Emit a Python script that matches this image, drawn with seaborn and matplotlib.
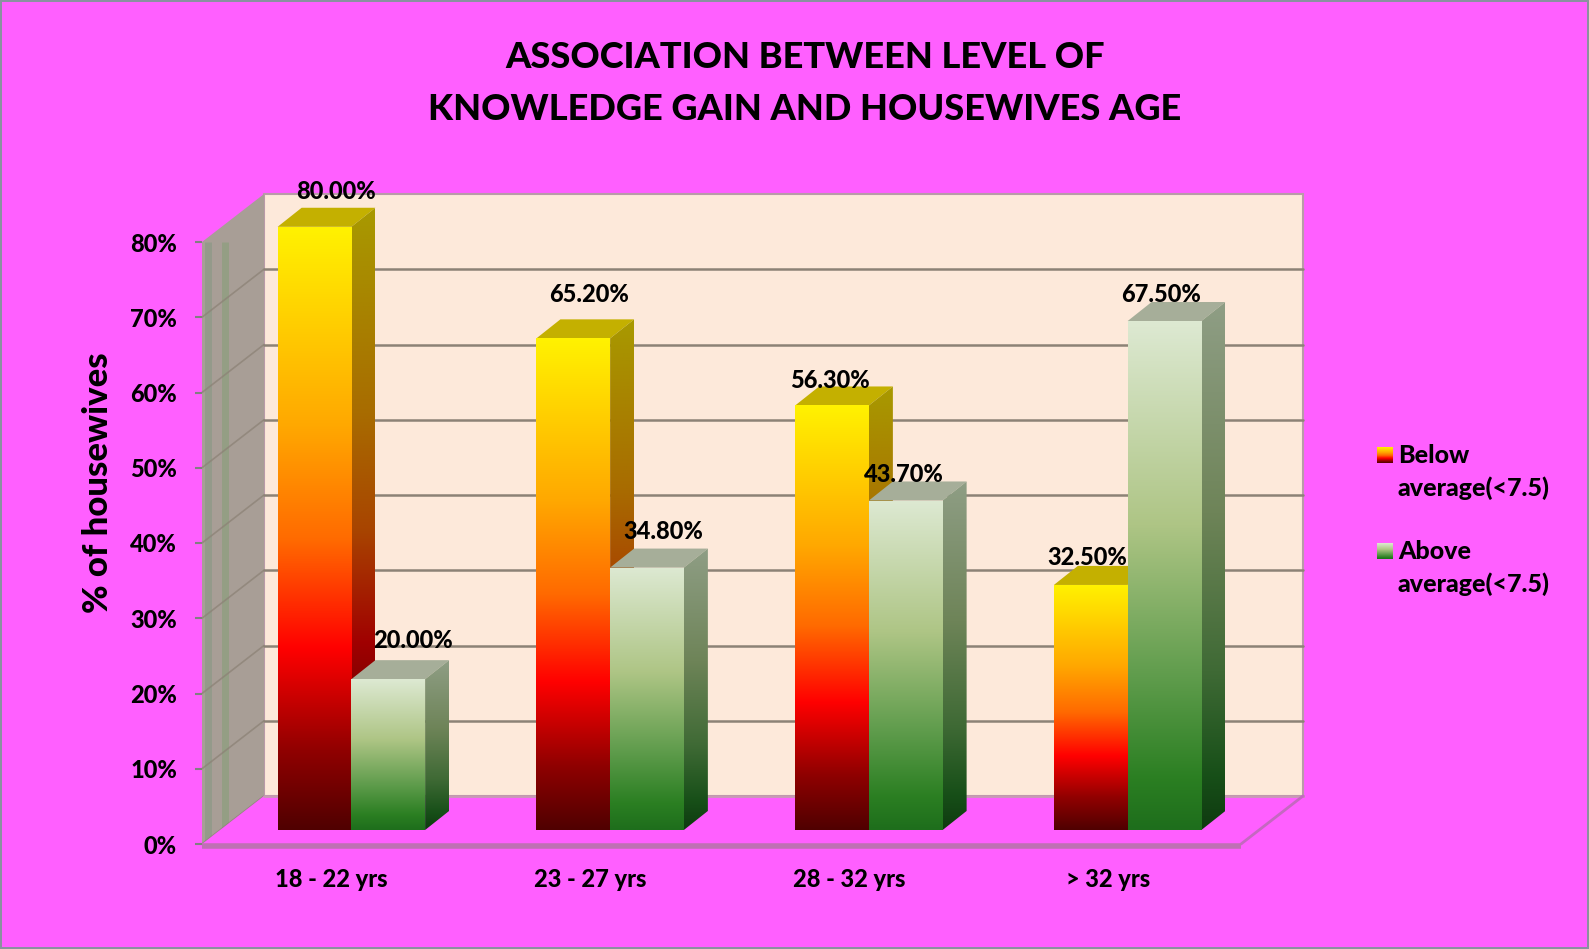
import numpy as np
import pandas as pd
import seaborn as sns
import matplotlib
matplotlib.use("Agg")
import matplotlib.pyplot as plt
from matplotlib.colors import LinearSegmentedColormap as LSC
from matplotlib.patches import Polygon

# ---- data ----
age_groups = ["18 - 22 yrs", "23 - 27 yrs", "28 - 32 yrs", "> 32 yrs"]
below_avg = [80.0, 65.2, 56.3, 32.5]
above_avg = [20.0, 34.8, 43.7, 67.5]
series_names = ["Below average(<7.5)", "Above average(<7.5)"]
y_ticks = [0, 10, 20, 30, 40, 50, 60, 70, 80]

# ---- style ----
W, H = 1589, 949
PINK = "#FF5FFF"
WALL = "#FDE9DA"
SIDEWALL = "#A89E96"
GRID = "#8C8276"
HEAVY = 900
sns.set_theme(style="white")
plt.rcParams["font.family"] = ["Lato", "DejaVu Sans"]

orange_front = LSC.from_list("of", [(0, "#FFF200"), (.33, "#FFA800"), (.52, "#FF6A00"), (.70, "#FF0000"), (.87, "#900000"), (1, "#500000")])
orange_side = LSC.from_list("os", [(0, "#A89A00"), (.33, "#A86C00"), (.52, "#A84400"), (.70, "#A00000"), (.87, "#5E0000"), (1, "#300000")])
green_front = LSC.from_list("gf", [(0, "#DDE9D2"), (.40, "#AEC585"), (.70, "#5F9C4C"), (.90, "#2B7F22"), (1, "#1E6E1C")])
green_side = LSC.from_list("gs", [(0, "#8F9E85"), (.40, "#6E8458"), (.70, "#3F6A35"), (.90, "#174F18"), (1, "#0F3A10")])
top_colors = ["#C4B000", "#A6AE99"]
fronts, sides = [orange_front, green_front], [orange_side, green_side]

# label offsets in pixels relative to the bar's centre / top
label_dx = [21, 16, -2, -3, 25, 16, -2, -3]
label_dy = [35, 44, 25, 27, 39, 36, 26, 27]

fig = plt.figure(figsize=(W / 100, H / 100), dpi=100, facecolor=PINK,
                 edgecolor="#8A90A0", linewidth=1.5)


def axes_px(left, right, top, bottom):
    return fig.add_axes([left / W, 1 - bottom / H, (right - left) / W, (bottom - top) / H])


# ---- front plane: walls, floor, ticks ----
af = axes_px(202, 1237, 242, 844)
af.patch.set_alpha(0)
af.set_xlim(-0.5, 3.5)
af.set_ylim(0, 80)
px_x = 4 / 1035
px_y = 80 / 602
wd_x, wd_y = 62 * px_x, 48 * px_y
xl, xr = -0.5, 3.5 + 4 * px_x
kw = dict(clip_on=False)
af.add_patch(Polygon([(xl + wd_x, wd_y), (xr + wd_x, wd_y), (xr + wd_x, 80 + wd_y), (xl + wd_x, 80 + wd_y)],
                     fc=WALL, ec="#B99AA8", lw=1.5, zorder=1, **kw))
af.add_patch(Polygon([(xl, 0), (xl + wd_x, wd_y), (xl + wd_x, 80 + wd_y), (xl, 80)],
                     fc=SIDEWALL, ec="none", zorder=1, **kw))
for frac, col in [(0.05, "#8F9A88"), (0.32, "#8F9E80")]:
    af.plot([xl + frac * wd_x + 3 * px_x] * 2, [0, 80], color=col, lw=5, alpha=.8, solid_capstyle="butt", zorder=1.1, **kw)
for v in y_ticks[:-1]:
    af.plot([xl + wd_x, xr + wd_x], [v + wd_y] * 2, color=GRID, lw=1.8, zorder=1.5, **kw)
    af.plot([xl, xl + wd_x], [v, v + wd_y], color=GRID, lw=1.2, alpha=.75, zorder=1.5, **kw)
af.add_patch(Polygon([(xl, 0), (xr, 0), (xr + wd_x, wd_y), (xl + wd_x, wd_y)], fc=PINK, ec="none", zorder=1.8, **kw))
af.plot([xl + wd_x, xr + wd_x], [wd_y, wd_y], color="#C79BB4", lw=2, zorder=1.9, **kw)
af.plot([xr, xr + wd_x], [0, wd_y], color="#C468C0", lw=2, zorder=1.9, **kw)
af.plot([xl, xr], [-2 * px_y, -2 * px_y], color="#BF70B4", lw=4, zorder=1.9, solid_capstyle="butt", **kw)

af.set_yticks(y_ticks)
af.set_yticklabels([f"{v}%" for v in y_ticks], fontsize=17, fontweight=HEAVY, color="black")
af.set_xticks(range(len(age_groups)))
af.set_xticklabels(age_groups, fontsize=17, fontweight=HEAVY, color="black")
af.tick_params(axis="y", left=True, length=5, width=1.5, color="#808080", pad=13)
af.tick_params(axis="x", bottom=False, pad=11)
for s in af.spines.values():
    s.set_visible(False)
af.set_ylabel("% of housewives", fontsize=25, fontweight=HEAVY, color="black")
af.yaxis.set_label_coords((114 - 202) / 1035, (844 - 483) / 602)

# ---- bars ----
ax = axes_px(222, 1257, 830 - 90 * 7.54, 830)
ax.patch.set_alpha(0)
df = pd.DataFrame({
    "age": age_groups * 2,
    "pct": below_avg + above_avg,
    "level": [series_names[0]] * 4 + [series_names[1]] * 4,
})
sns.barplot(data=df, x="age", y="pct", hue="level", order=age_groups, hue_order=series_names,
            width=0.57, gap=0, legend=False, ax=ax, saturation=1)
ax.axis("off")

bx = 24 * px_x
by = 19 * px_y
grad = np.linspace(0, 1, 256).reshape(-1, 1)
patches = [p for p in ax.patches if p.get_height() > 0]
for i, p in enumerate(patches):
    s = i // 4
    x0, w, h = p.get_x(), p.get_width(), p.get_height()
    x1 = x0 + w
    cx = x0 + w / 2
    z = 3 + (i % 4) * 2 + s * 0.5
    p.set_facecolor("none")
    p.set_edgecolor("none")
    ax.add_patch(Polygon([(x0, h), (x1, h), (x1 + bx, h + by), (x0 + bx, h + by)],
                         fc=top_colors[s], ec="none", zorder=z, clip_on=False))
    side = Polygon([(x1, 0), (x1 + bx, by), (x1 + bx, h + by), (x1, h)], fc="none", ec="none",
                   transform=ax.transData, zorder=z, clip_on=False)
    ax.add_patch(side)
    im = ax.imshow(grad, cmap=sides[s], extent=(x1, x1 + bx, 0, h + by), aspect="auto", origin="upper", zorder=z)
    im.set_clip_path(side)
    im2 = ax.imshow(grad, cmap=fronts[s], extent=(x0, x1, 0, h), aspect="auto", origin="upper", zorder=z + .1)
    p.set_zorder(z + .1)
    im2.set_clip_path(p)
    ax.annotate(f"{h:.2f}%", (cx, h), xytext=(label_dx[i], label_dy[i]), textcoords="offset pixels",
                ha="center", va="center", fontsize=17, fontweight=HEAVY, color="black",
                annotation_clip=False, zorder=30)
ax.set_xlim(-0.5, 3.5)
ax.set_ylim(0, 90)

# ---- title ----
fig.text(805 / W, 1 - 57 / H, "ASSOCIATION BETWEEN LEVEL OF", ha="center", va="center",
         fontsize=26, fontweight=HEAVY, color="black")
fig.text(805 / W, 1 - 109 / H, "KNOWLEDGE GAIN AND HOUSEWIVES AGE", ha="center", va="center",
         fontsize=26, fontweight=HEAVY, color="black")

# ---- legend ----
for (top, cmap, words) in [(447, orange_front, series_names[0]), (543, green_front, series_names[1])]:
    sw = axes_px(1377, 1393, top, top + 16)
    sw.imshow(grad[40:] if cmap is not green_front else grad, cmap=cmap, aspect="auto")
    sw.axis("off")
    a, b = words.split(" ")
    fig.text(1398 / W, 1 - (top + 8.5) / H, a, ha="left", va="center", fontsize=18, fontweight=HEAVY, color="black")
    fig.text(1398 / W, 1 - (top + 41) / H, b, ha="left", va="center", fontsize=18, fontweight=HEAVY, color="black")

fig.savefig("out.png", dpi=100, facecolor=PINK, edgecolor=fig.get_edgecolor())
